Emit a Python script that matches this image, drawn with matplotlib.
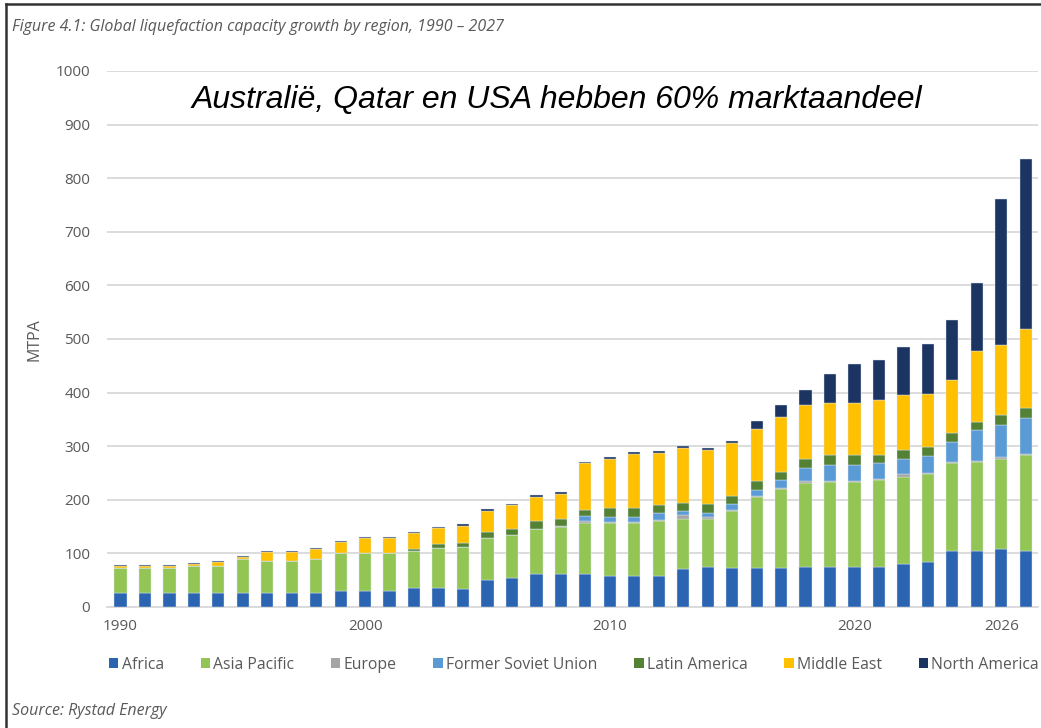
import matplotlib
matplotlib.use("Agg")
import matplotlib.pyplot as plt
from matplotlib.lines import Line2D
from matplotlib.patches import Patch
import numpy as np

years = list(range(1990, 2028))

africa = [27, 27, 27, 27, 27, 27, 27, 27, 27, 30, 30, 30, 35, 35, 33, 50, 54, 61, 61, 61,
          58, 58, 58, 70, 75, 72, 72, 72, 75, 74, 74, 74, 80, 84, 104, 104, 108, 104]
asia_pacific = [45, 45, 45, 49, 49, 62, 59, 59, 63, 70, 70, 70, 70, 75, 79, 78, 81, 84, 88, 95,
                98, 98, 102, 95, 90, 107, 134, 148, 156, 160, 160, 163, 163, 164, 165, 167, 168, 180]
europe = [0, 0, 0, 0, 0, 0, 0, 0, 0, 0, 0, 0, 0, 0, 0, 0, 0, 1, 2, 4,
          3, 3, 2, 6, 2, 2, 2, 2, 4, 2, 2, 2, 5, 2, 2, 2, 3, 2]
former_soviet = [0, 0, 0, 0, 0, 0, 0, 0, 0, 0, 0, 0, 0, 0, 0, 0, 0, 0, 0, 10,
                 8, 8, 13, 9, 9, 12, 11, 15, 25, 28, 28, 30, 28, 32, 36, 57, 61, 67]
latin_america = [0, 0, 0, 0, 0, 0, 0, 0, 0, 0, 0, 0, 3, 7, 7, 11, 11, 14, 14, 11,
                 17, 17, 15, 14, 17, 15, 17, 15, 16, 19, 19, 15, 17, 16, 17, 16, 18, 19]
middle_east = [4, 4, 4, 4, 8, 5, 17, 17, 18, 21, 28, 28, 30, 30, 32, 40, 44, 46, 46, 87,
               92, 102, 98, 103, 100, 98, 97, 102, 100, 98, 98, 102, 103, 99, 100, 132, 130, 146]
north_america = [2, 2, 2, 2, 2, 2, 2, 2, 2, 2, 3, 3, 2, 3, 3, 3, 3, 3, 3, 2,
                 3, 3, 3, 3, 3, 3, 14, 23, 28, 53, 72, 74, 90, 93, 111, 127, 273, 317]

regions = ["Africa", "Asia Pacific", "Europe", "Former Soviet Union",
           "Latin America", "Middle East", "North America"]
series = [africa, asia_pacific, europe, former_soviet, latin_america, middle_east, north_america]
colors = ["#2b65b1", "#92c554", "#a5a5a5", "#5b9bd5", "#548235", "#ffc000", "#1b3461"]

x_ticks = [1990, 2000, 2010, 2020, 2026]
y_ticks = list(range(0, 1001, 100))

grey = "#595959"
plt.rcParams['font.family'] = ['Open Sans', 'DejaVu Sans']

fig = plt.figure(figsize=(10.41, 7.28), dpi=100)
ax = fig.add_axes([107 / 1041, 1 - 607 / 728, (1038 - 107) / 1041, (607 - 71) / 728])

bottom = np.zeros(len(years))
for name, vals, col in zip(regions, series, colors):
    ax.bar(years, vals, width=0.5, bottom=bottom, color=col, label=name,
           edgecolor="#dce6f2", linewidth=0.3, zorder=3)
    bottom += np.array(vals)

ax.set_xlim(1989.45, 2027.5)
ax.set_ylim(0, 1000)
ax.set_yticks(y_ticks)
ax.set_xticks(x_ticks)
ax.tick_params(axis="both", length=0, labelsize=11, labelcolor=grey)
ax.tick_params(axis="y", pad=12)
ax.tick_params(axis="x", pad=9)
ax.grid(axis="y", color="#d9d9d9", linewidth=1.3, zorder=0)
for side in ["top", "right", "left"]:
    ax.spines[side].set_visible(False)
ax.spines["bottom"].set_color("#d9d9d9")
ax.spines["bottom"].set_linewidth(1.3)

fig.text(35 / 1041, 1 - 340 / 728, "MTPA", rotation=90, ha="center", va="center",
         fontsize=11.5, color=grey)

fig.text(12 / 1041, 1 - 27 / 728, "Figure 4.1: Global liquefaction capacity growth by region, 1990 \u2013 2027",
         ha="left", va="center", fontsize=11.5, style="italic", color=grey)
fig.text(12 / 1041, 1 - 711 / 728, "Source: Rystad Energy",
         ha="left", va="center", fontsize=11.5, style="italic", color=grey)

fig.text(557 / 1041, 1 - 100 / 728, "Australi\u00eb, Qatar en USA hebben 60% marktaandeel",
         ha="center", va="center", fontsize=23, style="italic", color="black",
         family=["Liberation Sans", "DejaVu Sans"])

handles = [Patch(facecolor=c, edgecolor="none") for c in colors]
leg = fig.legend(handles, regions, loc="center", bbox_to_anchor=(574 / 1041, 1 - 665 / 728),
                 ncol=7, frameon=False, fontsize=11.3, handlelength=0.6, handleheight=0.6,
                 handletextpad=0.2, columnspacing=2.35, borderaxespad=0)
for t in leg.get_texts():
    t.set_color(grey)

# frame lines around the figure (top and left visible)
fig.add_artist(Line2D([6 / 1041, 1], [1 - 4 / 728, 1 - 4 / 728], color="#333333", linewidth=1.8))
fig.add_artist(Line2D([6 / 1041, 6 / 1041], [0, 1 - 4 / 728], color="#333333", linewidth=1.8))

fig.savefig("out.png", dpi=100)
